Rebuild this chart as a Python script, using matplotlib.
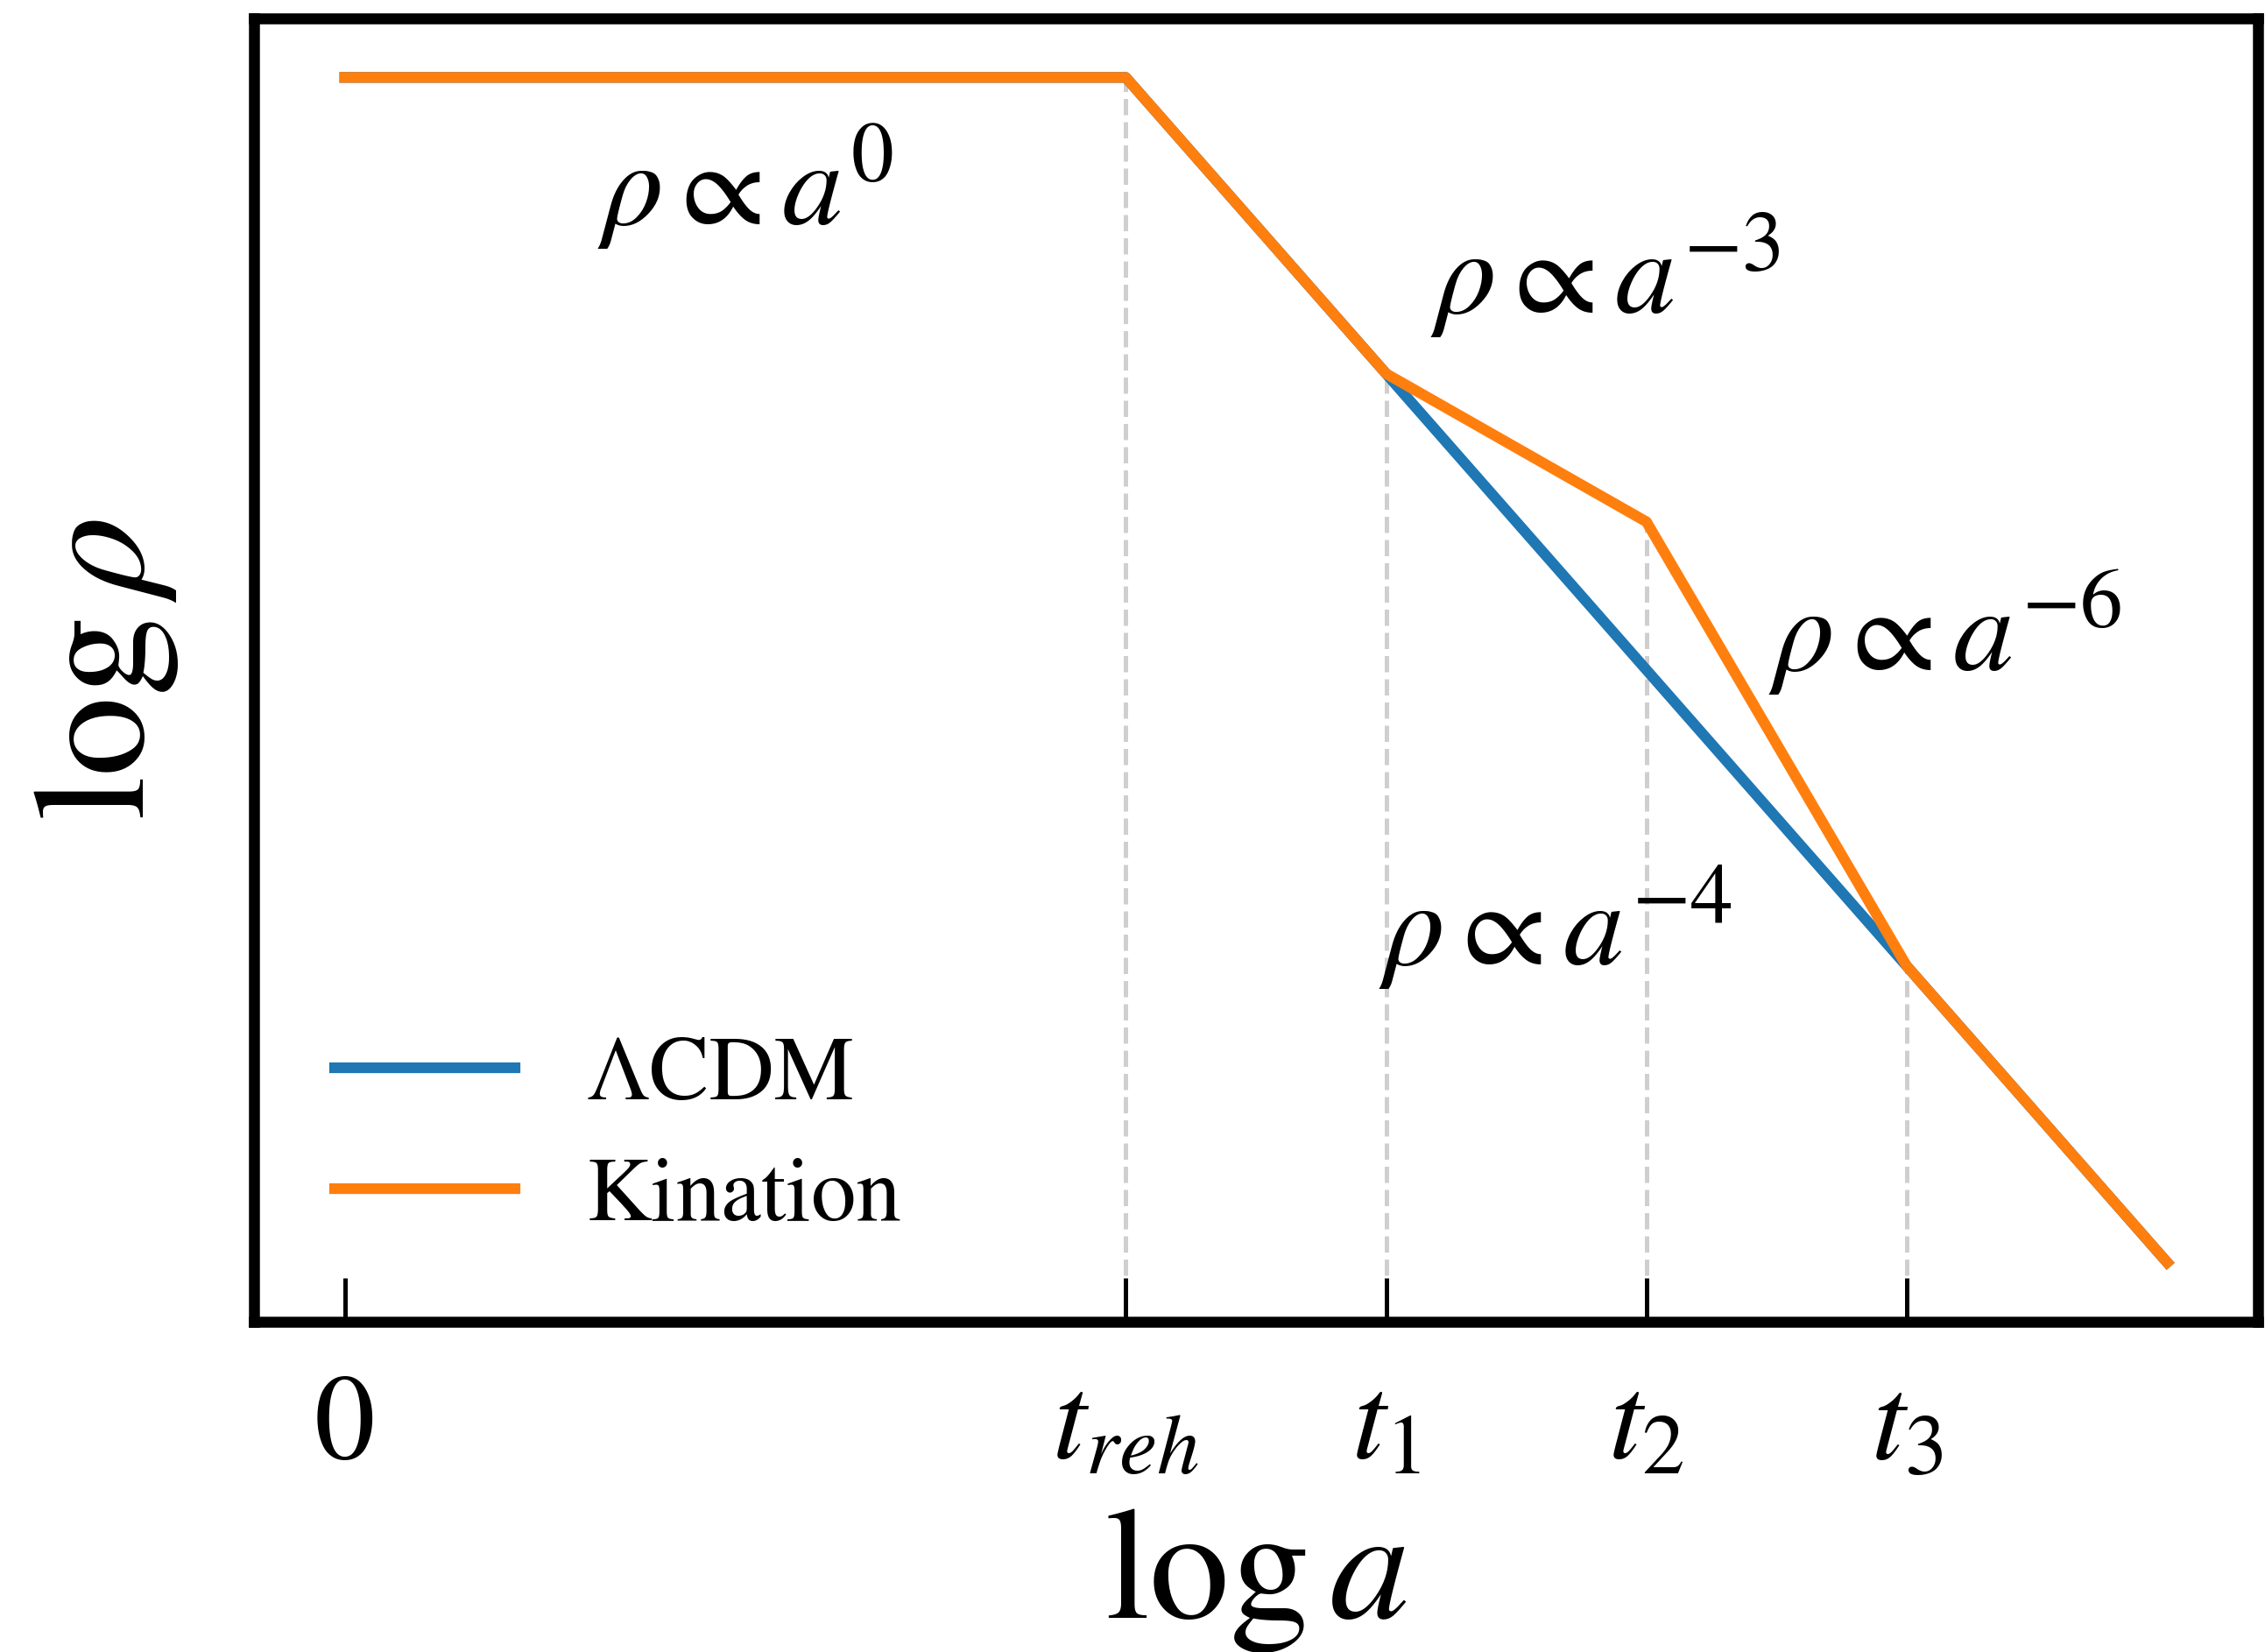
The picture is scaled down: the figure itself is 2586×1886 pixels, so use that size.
import matplotlib
matplotlib.use("Agg")
import matplotlib.pyplot as plt

# schematic energy density vs scale factor (log-log)
log_a_lcdm = [0, 3, 4, 6, 7]
log_rho_lcdm = [10, 10, 8, 4, 2]

log_a_kin = [0, 3, 4, 5, 6, 7]
log_rho_kin = [10, 10, 8, 7, 4, 2]

tick_pos = [0, 3, 4, 5, 6]
tick_labels = ["0", r"$t_{reh}$", r"$t_1$", r"$t_2$", r"$t_3$"]

# dashed guides: x position and height of the curve there
guide_x = [3, 4, 5, 6]
guide_top = [10, 8, 7, 4]

# scaling annotations: (x, y, text)
notes = [
    (0.97, 9.0, r"$\rho \propto a^{0}$"),
    (4.17, 8.4, r"$\rho \propto a^{-3}$"),
    (5.47, 6.0, r"$\rho \propto a^{-6}$"),
    (3.97, 4.0, r"$\rho \propto a^{-4}$"),
]

plt.rcParams["font.family"] = "STIXGeneral"
plt.rcParams["mathtext.fontset"] = "stix"

fig = plt.figure(figsize=(12.93, 9.43), dpi=200)
ax = fig.add_axes([0.112, 0.200, 0.885, 0.789])

xlim = (-0.35, 7.35)
ylim = (1.6, 10.4)

ax.vlines(guide_x, ylim[0], guide_top, colors="#cfcfcf", linestyles="--",
          linewidth=1.8, zorder=1)
ax.plot(log_a_lcdm, log_rho_lcdm, color="#1f77b4", lw=4.4, label="ΛCDM", zorder=2)
ax.plot(log_a_kin, log_rho_kin, color="#ff7f0e", lw=4.4, label="Kination", zorder=3)

for x, y, s in notes:
    ax.text(x, y, s, fontsize=50, ha="left", va="baseline")

ax.set_xlim(*xlim)
ax.set_ylim(*ylim)
ax.set_xticks(tick_pos)
ax.set_xticklabels(tick_labels)
ax.set_yticks([])
ax.tick_params(axis="x", direction="in", length=18, width=1.8,
               labelsize=50, pad=22)

ax.set_xlabel(r"$\log a$", fontsize=66, labelpad=9)
ax.set_ylabel(r"$\log \rho$", fontsize=66, labelpad=30)

for sp in ax.spines.values():
    sp.set_linewidth(4.5)

ax.legend(loc="lower left", frameon=False, fontsize=37,
          labelspacing=0.42, handletextpad=0.8, borderaxespad=0.5)

fig.savefig("out.png", dpi=200)
